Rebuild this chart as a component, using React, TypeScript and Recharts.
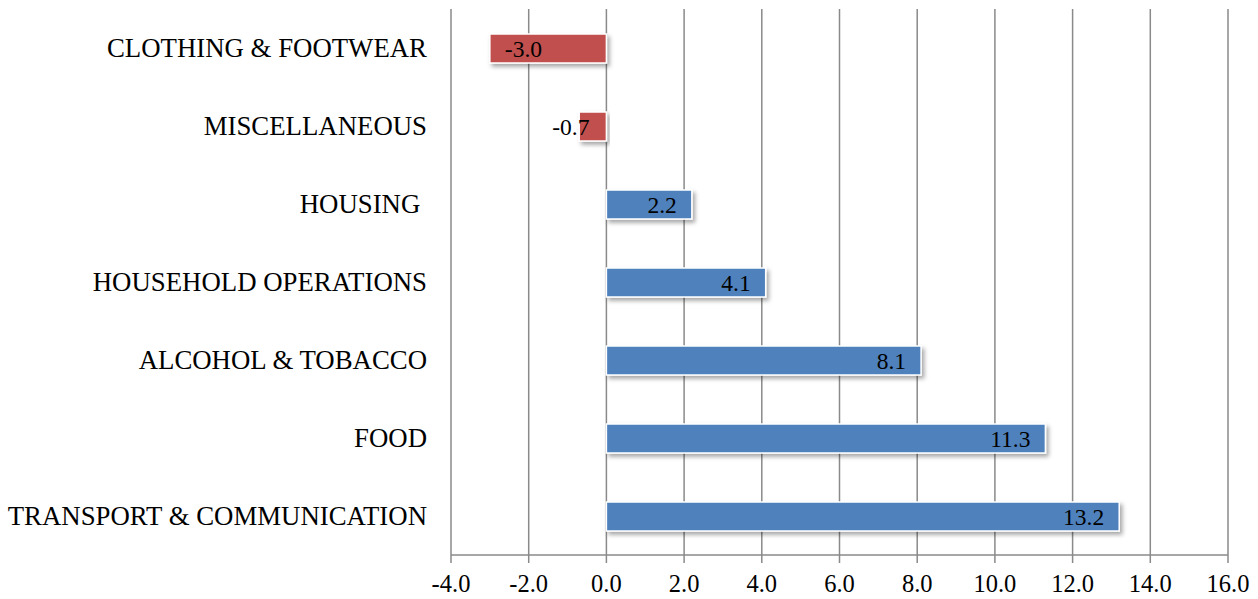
import { BarChart, Bar, XAxis, YAxis, CartesianGrid, Cell, LabelList } from "recharts";

const categories = [
  "CLOTHING & FOOTWEAR",
  "MISCELLANEOUS",
  "HOUSING ",
  "HOUSEHOLD OPERATIONS",
  "ALCOHOL & TOBACCO",
  "FOOD",
  "TRANSPORT & COMMUNICATION",
];
const changes = [-3.0, -0.7, 2.2, 4.1, 8.1, 11.3, 13.2];
const xTicks = [-4, -2, 0, 2, 4, 6, 8, 10, 12, 14, 16];

const data = categories.map((name, i) => ({ name, value: changes[i] }));

const FONT = "'Liberation Serif', 'Times New Roman', serif";
const GRID = "#8a8a8a";
const BLUE = "#4f81bd";
const RED = "#c0504d";

function CategoryTick(props: any) {
  const { x, y, payload } = props;
  return (
    <text
      x={x}
      y={y}
      dy="0.35em"
      textAnchor="end"
      fill="#000"
      fontSize={26.8}
      fontFamily={FONT}
      style={{ whiteSpace: "pre" }}
    >
      {payload.value}
    </text>
  );
}

function ValueLabel(props: any) {
  const { x, y, width, height, value } = props;
  const left = Math.min(x, x + width);
  const right = Math.max(x, x + width);
  const cy = y + height / 2;
  const text = Number(value).toFixed(1);
  const pad = 15;
  let tx = right - pad;
  let anchor: "start" | "end" = "end";
  if (value < 0) {
    const approxWidth = text.length * 11;
    if (right - left > approxWidth + pad * 2) {
      tx = left + pad;
      anchor = "start";
    } else {
      tx = right - pad - 2;
      anchor = "end";
    }
  }
  return (
    <text x={tx} y={cy} dy="0.35em" textAnchor={anchor} fill="#000" fontSize={23.5} fontFamily={FONT}>
      {text}
    </text>
  );
}

export default function App() {
  return (
    <div style={{ position: "absolute", left: 0, top: 0, width: 1258, height: 599, background: "#fff" }}>
      <svg width={0} height={0} style={{ position: "absolute" }}>
        <defs>
          <filter id="barShadow" x="-10%" y="-30%" width="120%" height="170%">
            <feDropShadow dx={2.5} dy={3} stdDeviation={2} floodColor="#000" floodOpacity={0.35} />
          </filter>
        </defs>
      </svg>
      <BarChart
        width={1258}
        height={599}
        data={data}
        layout="vertical"
        margin={{ top: 9, right: 30, bottom: 0, left: 0 }}
        barSize={29}
      >
        <CartesianGrid horizontal={false} vertical stroke={GRID} strokeWidth={1.5} />
        <XAxis
          type="number"
          domain={[-4, 16]}
          ticks={xTicks}
          interval={0}
          height={44}
          tickFormatter={(v: number) => v.toFixed(1)}
          stroke={GRID}
          strokeWidth={1.5}
          tickSize={8}
          tickMargin={12}
          tick={{ fill: "#000", fontSize: 24.5, fontFamily: FONT }}
          allowDataOverflow
        />
        <YAxis
          type="category"
          dataKey="name"
          width={451}
          axisLine={false}
          tickLine={false}
          tickSize={0}
          tickMargin={24}
          interval={0}
          tick={<CategoryTick />}
        />
        <Bar
          dataKey="value"
          isAnimationActive={false}
          stroke="#fff"
          strokeWidth={1.5}
          style={{ filter: "url(#barShadow)" }}
        >
          {data.map((d) => (
            <Cell key={d.name} fill={d.value < 0 ? RED : BLUE} />
          ))}
          <LabelList dataKey="value" content={<ValueLabel />} />
        </Bar>
      </BarChart>
    </div>
  );
}
